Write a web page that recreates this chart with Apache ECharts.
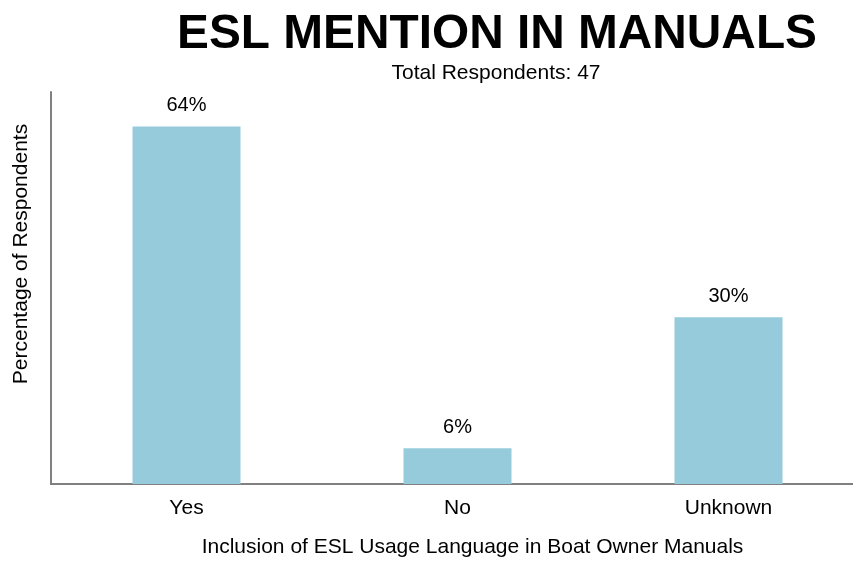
<!DOCTYPE html>
<html>
<head>
<meta charset="utf-8">
<script src="https://cdn.jsdelivr.net/npm/echarts@6/dist/echarts.min.js"></script>
<style>html,body{margin:0;padding:0;background:#fff;overflow:hidden;width:853px;height:562px;}#c{width:864px;height:562px;}</style>
</head>
<body>
<div id="c"></div>
<script>
const categories = ["Yes", "No", "Unknown"];
const percentValues = [63.83, 6.38, 29.79];
const titleText = "ESL MENTION IN MANUALS";
const subtitleText = "Total Respondents: 47";
const xAxisName = "Inclusion of ESL Usage Language in Boat Owner Manuals";
const yAxisName = "Percentage of Respondents";

const chart = echarts.init(document.getElementById('c'), null, {renderer: 'canvas'});
const font = "Liberation Sans, Arial, sans-serif";
chart.setOption({
  animation: false,
  backgroundColor: '#ffffff',
  title: [
    {text: titleText, left: 492, top: 6, textAlign: 'center',
     textStyle: {fontFamily: font, fontWeight: 'bold', fontSize: 47.8, color: '#000'}},
    {text: subtitleText, left: 491, top: 58, textAlign: 'center',
     textStyle: {fontFamily: font, fontWeight: 'normal', fontSize: 21, color: '#000'}}
  ],
  graphic: [
    {type: 'text', x: 472.5, y: 547, style: {text: xAxisName, fontFamily: font, fontSize: 21, fill: '#000', align: 'center', verticalAlign: 'middle'}},
    {type: 'text', x: 21, y: 254, rotation: Math.PI / 2, style: {text: yAxisName, fontFamily: font, fontSize: 21, fill: '#000', align: 'center', verticalAlign: 'middle'}}
  ],
  grid: {left: 51, top: 92, right: 0, bottom: 78, containLabel: false},
  xAxis: {
    type: 'category', data: categories,
    axisLine: {show: true, lineStyle: {color: '#808080', width: 2}},
    axisTick: {show: false},
    axisLabel: {fontFamily: font, fontSize: 21, color: '#000', margin: 14}
  },
  yAxis: {
    type: 'value', min: 0, max: 70,
    axisLine: {show: true, lineStyle: {color: '#808080', width: 2}},
    axisTick: {show: false}, axisLabel: {show: false}, splitLine: {show: false}
  },
  series: [{
    type: 'bar', data: percentValues, barWidth: 108,
    itemStyle: {color: '#96cbdc'},
    label: {show: true, position: 'top', distance: 11, fontFamily: font, fontSize: 20, color: '#000',
      formatter: p => Math.round(p.value) + '%'}
  }]
});
</script>
</body>
</html>
